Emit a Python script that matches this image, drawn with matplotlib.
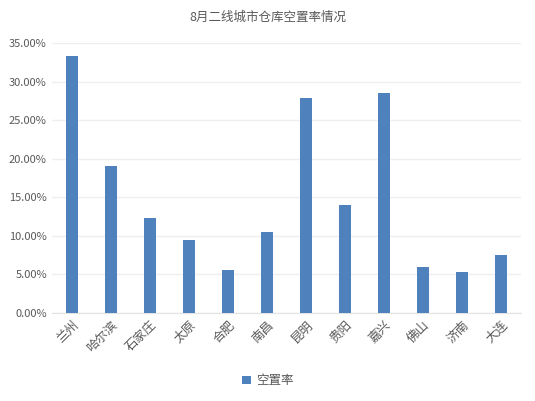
import matplotlib
matplotlib.use('Agg')
import matplotlib.pyplot as plt
from matplotlib.ticker import FuncFormatter

plt.rcParams['font.family'] = ['Noto Sans CJK SC', 'DejaVu Sans']

# --- data ---
TITLE = '8月二线城市仓库空置率情况'
SERIES_NAME = '空置率'
cities = ['兰州', '哈尔滨', '石家庄', '太原', '合肥', '南昌',
          '昆明', '贵阳', '嘉兴', '佛山', '济南', '大连']
vacancy = [0.333, 0.190, 0.123, 0.095, 0.056, 0.105,
           0.279, 0.140, 0.286, 0.060, 0.053, 0.075]

BAR_COLOR = '#4F81BD'
TEXT_COLOR = '#595959'
GRID_COLOR = '#EFEFEF'

fig = plt.figure(figsize=(5.35, 4.01), dpi=100)
ax = fig.add_axes([0.098, 0.220, 0.875, 0.672])

x = range(len(cities))
ax.bar(x, vacancy, width=0.31, color=BAR_COLOR, label=SERIES_NAME, zorder=3)

ax.set_xlim(-0.5, len(cities) - 0.5)
ax.set_ylim(0, 0.35)
ax.set_yticks([i * 0.05 for i in range(8)])
ax.yaxis.set_major_formatter(FuncFormatter(lambda v, p: f'{v * 100:.2f}%'))
ax.grid(axis='y', color=GRID_COLOR, linewidth=1, zorder=0)

ax.set_xticks(list(x))
ax.set_xticklabels(cities, rotation=45, ha='right', rotation_mode='anchor',
                   fontsize=9, color=TEXT_COLOR)
ax.tick_params(axis='y', labelsize=8, labelcolor=TEXT_COLOR, length=0, pad=4)
ax.tick_params(axis='x', length=0, pad=4)

for side in ['top', 'right', 'left']:
    ax.spines[side].set_visible(False)
ax.spines['bottom'].set_color('#E3E3E3')

fig.text(0.5, 0.957, TITLE, ha='center', va='center', fontsize=9, color=TEXT_COLOR)

leg = fig.legend(loc='center', bbox_to_anchor=(0.5, 0.05), frameon=False,
                 fontsize=9, handlelength=0.7, handleheight=0.7, handletextpad=0.4)
for t in leg.get_texts():
    t.set_color(TEXT_COLOR)

plt.savefig('out.png', dpi=100)
